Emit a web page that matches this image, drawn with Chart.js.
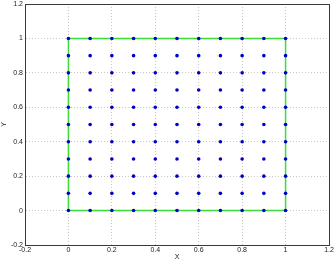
<!DOCTYPE html>
<html lang="en">
<head>
    <meta charset="utf-8">
    <script src="https://cdn.jsdelivr.net/npm/chart.js@4/dist/chart.umd.min.js"></script>
    <style>
        html, body { margin: 0; padding: 0; background: #fff; }
        .chart-container { position: relative; width: 334px; height: 261px; }
    </style>
</head>
<body>
<div class="chart-container">
    <canvas id="myChart" width="334" height="261"></canvas>
</div>
<script>
    // grid node coordinates
    var gridX = [0, 0.1, 0.2, 0.3, 0.4, 0.5, 0.6, 0.7, 0.8, 0.9, 1];
    var gridY = [0, 0.1, 0.2, 0.3, 0.4, 0.5, 0.6, 0.7, 0.8, 0.9, 1];
    // boundary square
    var squareX = [0, 1, 1, 0, 0];
    var squareY = [0, 0, 1, 1, 0];
    var xTicks = [-0.2, 0, 0.2, 0.4, 0.6, 0.8, 1, 1.2];
    var yTicks = [-0.2, 0, 0.2, 0.4, 0.6, 0.8, 1, 1.2];

    var nodes = [];
    gridX.forEach(function (x) {
        gridY.forEach(function (y) { nodes.push({x: x, y: y}); });
    });
    var square = squareX.map(function (x, i) { return {x: x, y: squareY[i]}; });

    // box round the plot area, like matlab
    var boxPlugin = {
        id: 'box',
        afterDraw: function (chart) {
            var a = chart.chartArea, c = chart.ctx;
            c.save();
            c.strokeStyle = '#3a3a3a';
            c.lineWidth = 1;
            c.strokeRect(Math.round(a.left) + 0.5, Math.round(a.top) + 0.5,
                Math.round(a.right - a.left), Math.round(a.bottom - a.top));
            c.restore();
        }
    };

    var fmt = function (v) { return Math.abs(v) < 1e-9 ? '0' : String(Math.round(v * 10) / 10); };

    new Chart(document.getElementById('myChart'), {
        type: 'scatter',
        data: {
            datasets: [{
                data: nodes,
                showLine: false,
                pointRadius: 1.8,
                pointBackgroundColor: '#0000c8',
                pointBorderColor: '#0000c8',
                pointBorderWidth: 0
            }, {
                data: square,
                showLine: true,
                borderColor: '#3ddc3d',
                borderWidth: 1.5,
                pointRadius: 0,
                fill: false
            }]
        },
        options: {
            responsive: false,
            animation: false,
            layout: { padding: { top: 4, right: 5, left: 0, bottom: 0 } },
            plugins: { legend: { display: false }, tooltip: { enabled: false } },
            scales: {
                x: {
                    type: 'linear', min: -0.2, max: 1.2,
                    afterBuildTicks: function (s) { s.ticks = xTicks.map(function (v) { return {value: v}; }); },
                    afterFit: function (s) { s.height = 16; s.paddingLeft = 0; s.paddingRight = 0; },
                    ticks: { font: { family: 'Liberation Sans', size: 7 }, color: '#222', padding: 1, maxRotation: 0, callback: fmt },
                    grid: { color: '#c8c8c8', drawTicks: false },
                    border: { dash: [1, 2], color: '#3a3a3a' },
                    title: { display: true, text: 'X', font: { family: 'Liberation Sans', size: 7 }, color: '#222', padding: 0 }
                },
                y: {
                    type: 'linear', min: -0.2, max: 1.2,
                    afterBuildTicks: function (s) { s.ticks = yTicks.map(function (v) { return {value: v}; }); },
                    afterFit: function (s) { s.width = 25; s.paddingTop = 0; s.paddingBottom = 0; },
                    ticks: { font: { family: 'Liberation Sans', size: 7 }, color: '#222', padding: 2, callback: fmt },
                    grid: { color: '#c8c8c8', drawTicks: false },
                    border: { dash: [1, 2], color: '#3a3a3a' },
                    title: { display: true, text: 'Y', font: { family: 'Liberation Sans', size: 7 }, color: '#222', padding: 0 }
                }
            }
        },
        plugins: [boxPlugin]
    });
</script>
</body>
</html>
